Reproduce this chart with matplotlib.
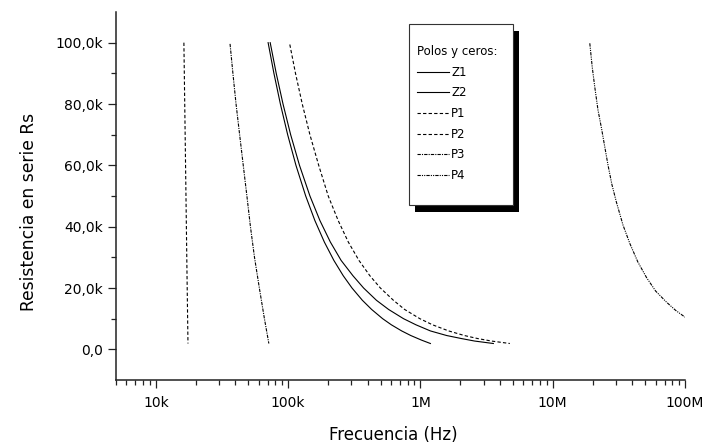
import numpy as np
import matplotlib as mpl
mpl.use('Agg')
import matplotlib.pyplot as plt
from matplotlib.patches import Rectangle
from matplotlib.ticker import FixedLocator, FuncFormatter, LogLocator, NullFormatter

# ========== Data (frequency in Hz, resistance in kOhm) ==========
z1_f = [70.6e3, 78.1e3, 87.4e3, 99.2e3, 114.6e3, 135.8e3, 159.3e3, 187.8e3, 221.7e3, 261e3,
        304e3, 364e3, 428e3, 518e3, 603e3, 722e3, 846e3, 1.02e6, 1.19e6]
z1_r = [100, 90, 80, 70, 60, 50, 42, 35, 29, 24, 20, 16, 13, 10, 8, 6, 4.5, 3, 1.9]

z2_f = [73.2e3, 81.3e3, 91.5e3, 104.5e3, 121.9e3, 146.2e3, 173.9e3, 208.5e3, 251.5e3, 309e3,
        372e3, 465e3, 575e3, 745e3, 925e3, 1.19e6, 1.58e6, 2.05e6, 2.57e6, 3.56e6]
z2_r = [100, 90, 80, 70, 60, 50, 42, 35, 29, 24, 20, 16, 13, 10, 8, 6, 4.5, 3.5, 2.7, 1.9]

p1_f = [16.3e3, 16.6e3, 16.9e3, 17.2e3, 17.5e3]
p1_r = [100, 75, 50, 25, 1.9]

p2_f = [103e3, 113.7e3, 127.9e3, 146.1e3, 170.3e3, 201e3, 239e3, 285e3, 343e3, 415e3,
        498e3, 625e3, 760e3, 990e3, 1.235e6, 1.635e6, 2.15e6, 2.72e6, 3.45e6, 4.74e6]
p2_r = [99.4, 90, 80, 70, 60, 50, 42, 35, 29, 24, 20, 16, 13, 10, 8, 6, 4.5, 3.5, 2.7, 1.9]

p3_f = [36.4e3, 38.25e3, 40.4e3, 43.0e3, 45.8e3, 48.8e3, 51.9e3, 55.7e3, 60.6e3, 66.2e3, 71.5e3]
p3_r = [99.6, 90, 80, 70, 60, 50, 40, 30, 20, 10, 1.9]

p4_f = [19.07e6, 19.9e6, 20.8e6, 22.0e6, 23.4e6, 24.8e6, 26.2e6, 28.0e6, 30.3e6, 34.0e6,
        38.3e6, 44.0e6, 51.2e6, 60.0e6, 72.4e6, 85.0e6, 100e6]
p4_r = [99.8, 92.0, 85.5, 78.0, 72.0, 65.8, 60.0, 53.8, 48.0, 40.5, 34.5, 28.5, 23.4, 19.0,
        15.4, 12.7, 10.5]

x_ticks = [1e4, 1e5, 1e6, 1e7, 1e8]
x_labels = ["10k", "100k", "1M", "10M", "100M"]
y_ticks = [0, 20, 40, 60, 80, 100]

W, H = 707, 447

# ========== Figure ==========
fig = plt.figure(figsize=(W / 100, H / 100), dpi=100)
ax = fig.add_axes([116 / W, 1 - 380 / H, (685 - 116) / W, (380 - 12) / H])

lw = 0.8
ax.plot(z1_f, z1_r, color="black", lw=lw, ls="-", label="Z1")
ax.plot(z2_f, z2_r, color="black", lw=lw, ls="-", label="Z2")
ax.plot(p1_f, p1_r, color="black", lw=lw, ls=(0, (3, 2)), label="P1")
ax.plot(p2_f, p2_r, color="black", lw=lw, ls=(0, (3, 2)), label="P2")
ax.plot(p3_f, p3_r, color="black", lw=lw, ls=(0, (3, 1, 1, 1)), label="P3")
ax.plot(p4_f, p4_r, color="black", lw=lw, ls=(0, (3, 1, 1, 1, 1, 1)), label="P4")

ax.set_xscale("log")
ax.set_xlim(5e3, 1e8)
ax.set_ylim(-10, 110)

ax.xaxis.set_major_locator(FixedLocator(x_ticks))
ax.xaxis.set_major_formatter(FuncFormatter(lambda v, p: x_labels[x_ticks.index(v)] if v in x_ticks else ""))
ax.xaxis.set_minor_locator(LogLocator(base=10, subs=np.arange(2, 10), numticks=20))
ax.xaxis.set_minor_formatter(NullFormatter())

def ylab(v, pos):
    if v == 0:
        return "0,0"
    return ("%.1fk" % v).replace(".", ",")

ax.yaxis.set_major_locator(FixedLocator(y_ticks))
ax.yaxis.set_major_formatter(FuncFormatter(ylab))
ax.yaxis.set_minor_locator(FixedLocator([10, 30, 50, 70, 90]))

for s in ["top", "right"]:
    ax.spines[s].set_visible(False)
for s in ["left", "bottom"]:
    ax.spines[s].set_linewidth(1.1)
    ax.spines[s].set_color("#222222")

ax.tick_params(which="major", direction="out", length=5.8, width=0.9, labelsize=10, color="#222222")
ax.tick_params(which="minor", direction="out", length=3.4, width=0.9, color="#222222")
ax.tick_params(axis="x", which="major", pad=5.5)
ax.tick_params(axis="y", which="major", pad=3.8)

ax.set_xlabel("Frecuencia (Hz)", fontsize=12)
ax.set_ylabel("Resistencia en serie Rs", fontsize=12.3)
ax.xaxis.set_label_coords(0.487, -0.124)
ax.yaxis.set_label_coords(-0.137, 0.4565)

# legend box with hard black shadow
shadow = Rectangle((415 / W, 1 - 212 / H), 104 / W, 181 / H, transform=fig.transFigure,
                   facecolor="black", edgecolor="none", zorder=4, clip_on=False)
box = Rectangle((409 / W, 1 - 205 / H), 104 / W, 181 / H, transform=fig.transFigure,
                facecolor="white", edgecolor="#333333", lw=0.8, zorder=4.5, clip_on=False)
ax.add_artist(shadow)
ax.add_artist(box)

leg = ax.legend(loc="upper left", bbox_to_anchor=(417 / W, 1 - 45 / H), bbox_transform=fig.transFigure,
                frameon=False, title="Polos y ceros:", alignment="left", fontsize=8.5,
                title_fontsize=8.5, borderpad=0, borderaxespad=0, handlelength=2.7,
                handletextpad=0.2, labelspacing=0.65)
leg.set_zorder(5)

fig.savefig("out.png", dpi=100)
